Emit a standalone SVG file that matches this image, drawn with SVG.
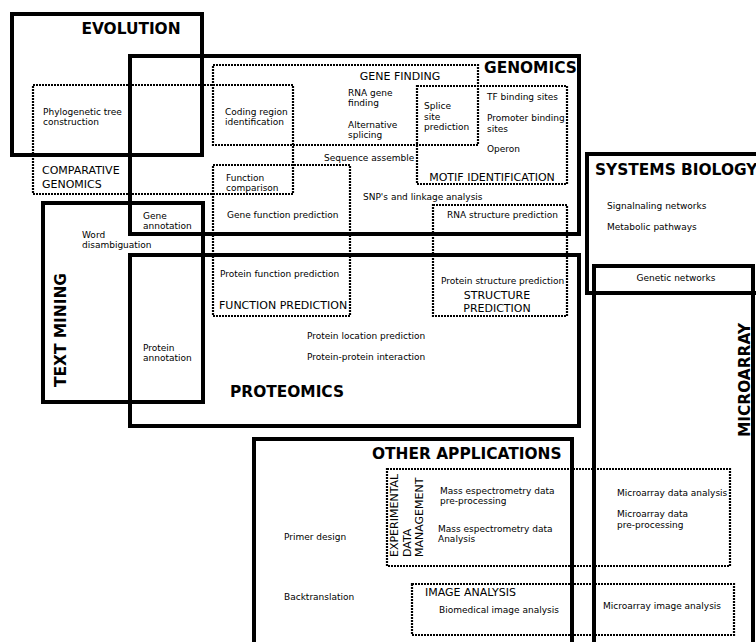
<svg xmlns="http://www.w3.org/2000/svg" width="756" height="642" viewBox="0 0 756 642">
  <style>
    .area { fill: none; stroke: #000; stroke-width: 4; }
    .sub { fill: none; stroke: #000; stroke-width: 2.2; stroke-dasharray: 2 1; }
    text { font-family: "DejaVu Sans", "Liberation Sans", sans-serif; fill: #000; }
    .s { font-size: 9px; }
    .m { font-size: 11px; }
    .t { font-size: 15.4px; font-weight: bold; }
  </style>
  <rect width="756" height="642" fill="#fff"/>

  <!-- main research areas -->
  <g id="evolution">
    <rect class="area" x="12" y="14" width="190" height="141"/>
    <text class="t" x="131" y="34" text-anchor="middle">EVOLUTION</text>
    <text class="s" x="43" y="115">Phylogenetic tree</text>
    <text class="s" x="43" y="125">construction</text>
  </g>

  <g id="genomics">
    <rect class="area" x="130" y="56" width="449" height="178"/>
    <text class="t" x="484" y="73">GENOMICS</text>
    <text class="s" x="348" y="96">RNA gene</text>
    <text class="s" x="348" y="106">finding</text>
    <text class="s" x="348" y="128">Alternative</text>
    <text class="s" x="348" y="138">splicing</text>
    <text class="s" x="324" y="161">Sequence assemble</text>
    <text class="s" x="363" y="200">SNP's and linkage analysis</text>
    <text class="s" x="143" y="219">Gene</text>
    <text class="s" x="143" y="229">annotation</text>
  </g>

  <g id="proteomics">
    <rect class="area" x="130" y="255" width="449" height="171"/>
    <text class="t" x="230" y="397">PROTEOMICS</text>
    <text class="s" x="307" y="339">Protein location prediction</text>
    <text class="s" x="307" y="360">Protein-protein interaction</text>
    <text class="s" x="143" y="351">Protein</text>
    <text class="s" x="143" y="361">annotation</text>
  </g>

  <g id="text-mining">
    <rect class="area" x="43" y="203" width="160" height="199"/>
    <text class="t" transform="translate(66,330) rotate(-90)" text-anchor="middle">TEXT MINING</text>
    <text class="s" x="82" y="238">Word</text>
    <text class="s" x="82" y="248">disambiguation</text>
  </g>

  <g id="systems-biology">
    <rect class="area" x="587" y="154" width="185" height="139"/>
    <text class="t" x="595" y="175">SYSTEMS BIOLOGY</text>
    <text class="s" x="607" y="209">Signalnaling networks</text>
    <text class="s" x="607" y="230">Metabolic pathways</text>
    <text class="s" x="676" y="281" text-anchor="middle">Genetic networks</text>
  </g>

  <g id="microarray">
    <rect class="area" x="594" y="266" width="159" height="400"/>
    <text class="t" transform="translate(750,380) rotate(-90)" text-anchor="middle">MICROARRAY</text>
    <text class="s" x="617" y="496">Microarray data analysis</text>
    <text class="s" x="617" y="517">Microarray data</text>
    <text class="s" x="617" y="528">pre-processing</text>
    <text class="s" x="603" y="609">Microarray image analysis</text>
  </g>

  <g id="other-applications">
    <rect class="area" x="254" y="439" width="318" height="230"/>
    <text class="t" x="372" y="459">OTHER APPLICATIONS</text>
    <text class="s" x="284" y="540">Primer design</text>
    <text class="s" x="284" y="600">Backtranslation</text>
  </g>

  <!-- sub-areas (dotted outlines) -->
  <g id="comparative-genomics">
    <rect class="sub" x="33" y="85" width="260" height="109"/>
    <text class="m" x="42" y="174">COMPARATIVE</text>
    <text class="m" x="42" y="188">GENOMICS</text>
    <text class="s" x="226" y="181">Function</text>
    <text class="s" x="226" y="191">comparison</text>
  </g>

  <g id="gene-finding">
    <rect class="sub" x="213" y="65" width="265" height="80"/>
    <text class="m" x="400" y="80" text-anchor="middle">GENE FINDING</text>
    <text class="s" x="225" y="115">Coding region</text>
    <text class="s" x="225" y="125">identification</text>
  </g>

  <g id="motif-identification">
    <rect class="sub" x="417" y="86" width="150" height="98"/>
    <text class="m" x="492" y="181" text-anchor="middle">MOTIF IDENTIFICATION</text>
    <text class="s" x="424" y="109">Splice</text>
    <text class="s" x="424" y="120">site</text>
    <text class="s" x="424" y="130">prediction</text>
    <text class="s" x="487" y="100">TF binding sites</text>
    <text class="s" x="487" y="121">Promoter binding</text>
    <text class="s" x="487" y="132">sites</text>
    <text class="s" x="487" y="152">Operon</text>
  </g>

  <g id="function-prediction">
    <rect class="sub" x="213" y="165" width="137" height="151"/>
    <text class="s" x="227" y="218">Gene function prediction</text>
    <text class="s" x="220" y="277">Protein function prediction</text>
    <text class="m" x="219" y="309">FUNCTION PREDICTION</text>
  </g>

  <g id="structure-prediction">
    <rect class="sub" x="433" y="205" width="134" height="111"/>
    <text class="s" x="447" y="218">RNA structure prediction</text>
    <text class="s" x="441" y="284">Protein structure prediction</text>
    <text class="m" x="497" y="299" text-anchor="middle">STRUCTURE</text>
    <text class="m" x="497" y="312" text-anchor="middle">PREDICTION</text>
  </g>

  <g id="experimental-data-management">
    <rect class="sub" x="387" y="469" width="343" height="97"/>
    <text class="m" transform="translate(398,557) rotate(-90)">EXPERIMENTAL<tspan x="0" dy="13">DATA</tspan><tspan x="0" dy="12">MANAGEMENT</tspan></text>
    <text class="s" x="440" y="494">Mass espectrometry data</text>
    <text class="s" x="440" y="504">pre-processing</text>
    <text class="s" x="438" y="532">Mass espectrometry data</text>
    <text class="s" x="438" y="542">Analysis</text>
  </g>

  <g id="image-analysis">
    <rect class="sub" x="412" y="584" width="322" height="51"/>
    <text class="m" x="425" y="596">IMAGE ANALYSIS</text>
    <text class="s" x="439" y="613">Biomedical image analysis</text>
  </g>

  <!-- regions overlap directly; no connector lines are drawn -->
  <g id="connectors"/>
</svg>
